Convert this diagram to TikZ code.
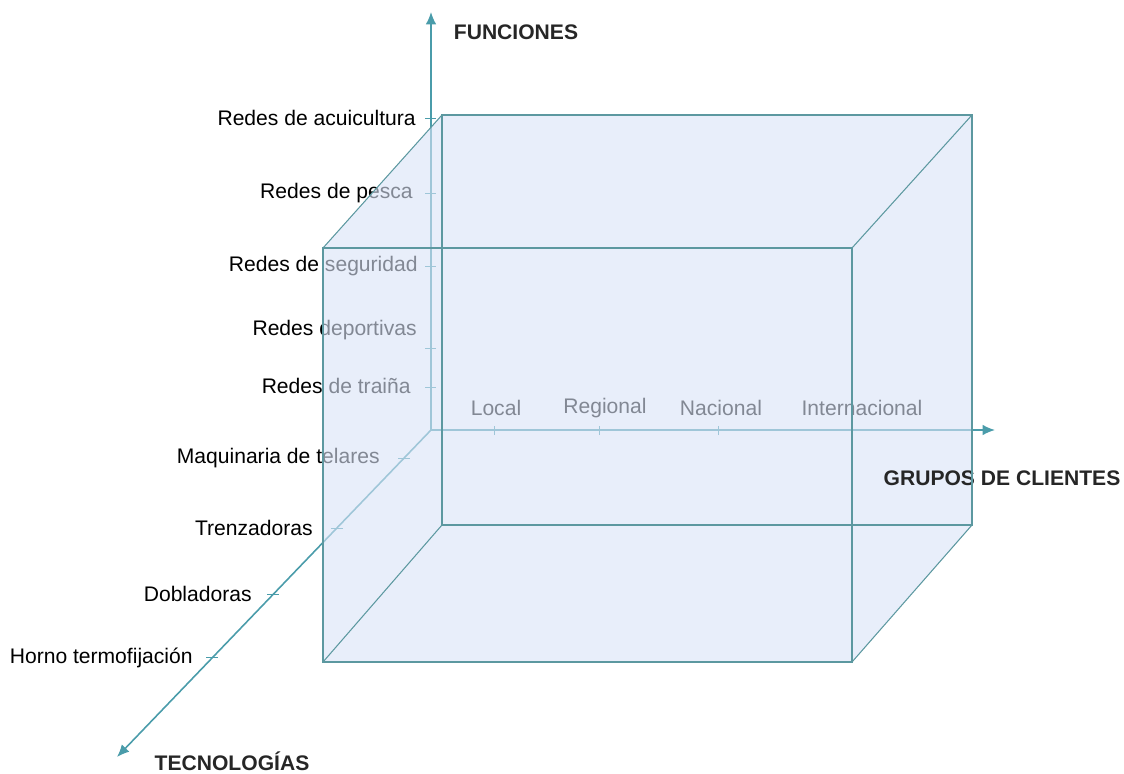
\documentclass[tikz,border=0pt]{standalone}
\usepackage{fontspec}
\setmainfont{Liberation Sans}
\usepackage{tikz}
\usetikzlibrary{arrows.meta}
\definecolor{axisteal}{RGB}{74,156,170}
\definecolor{edgeteal}{RGB}{92,152,160}
\definecolor{cubefill}{RGB}{217,227,247}

\begin{document}
\begin{tikzpicture}[
  axisline/.style={draw=axisteal, line width=0.9pt, -{Latex[length=7pt,width=6pt]}},
  tickmark/.style={draw=axisteal, line width=0.5pt},
  ticklabel/.style={font=\fontsize{12}{14}\selectfont, inner sep=0pt},
  axistitle/.style={font=\fontsize{12}{14}\selectfont\bfseries, text=black!85},
  cubeedge/.style={draw=edgeteal, line width=0.6pt}]

\useasboundingbox (0,0) rectangle (22.48,15.46);

\coordinate (O) at (8.62,6.86);
\coordinate (yend) at (8.62,15.22);
\coordinate (xend) at (19.9,6.86);
\coordinate (zend) at (2.34,0.32);

\draw[axisline] (O) -- (yend);
\draw[axisline] (O) -- (xend);
\draw[axisline] (O) -- (zend);

\node[axistitle] (funciones) at (10.32,14.82) {FUNCIONES};
\node[axistitle] (tecno) at (4.64,0.24) {TECNOLOGÍAS};

\coordinate (y1) at (8.62,13.1);
\coordinate (y2) at (8.62,11.6);
\coordinate (y3) at (8.62,10.14);
\coordinate (y4) at (8.62,8.5);
\coordinate (y5) at (8.62,7.72);
\draw[tickmark] ([xshift=-0.12cm]y1) -- ([xshift=0.1cm]y1);
\draw[tickmark] ([xshift=-0.12cm]y2) -- ([xshift=0.1cm]y2);
\draw[tickmark] ([xshift=-0.12cm]y3) -- ([xshift=0.1cm]y3);
\draw[tickmark] ([xshift=-0.12cm]y4) -- ([xshift=0.1cm]y4);
\draw[tickmark] ([xshift=-0.12cm]y5) -- ([xshift=0.1cm]y5);
\node[ticklabel, anchor=east] (acuicultura) at (8.32,13.1) {Redes de acuicultura};
\node[ticklabel, anchor=east] (pesca) at (8.26,11.6) {Redes de pesca};
\node[ticklabel, anchor=east] (seguridad) at (8.36,10.14) {Redes de seguridad};
\node[ticklabel, anchor=east] (deportivas) at (8.34,8.86) {Redes deportivas};
\node[ticklabel, anchor=east] (traina) at (8.22,7.74) {Redes de traiña};

\coordinate (x1) at (9.88,6.86);
\coordinate (x2) at (11.98,6.86);
\coordinate (x3) at (14.36,6.86);
\draw[tickmark] ([yshift=-0.1cm]x1) -- ([yshift=0.08cm]x1);
\draw[tickmark] ([yshift=-0.1cm]x2) -- ([yshift=0.08cm]x2);
\draw[tickmark] ([yshift=-0.1cm]x3) -- ([yshift=0.08cm]x3);
\node[ticklabel] (local) at (9.92,7.3) {Local};
\node[ticklabel] (regional) at (12.1,7.3) {Regional};
\node[ticklabel] (nacional) at (14.42,7.3) {Nacional};
\node[ticklabel] (internacional) at (17.24,7.3) {Internacional};

\path (O) -- (zend) coordinate[pos=0.086] (z1) coordinate[pos=0.3] (z2)
  coordinate[pos=0.502] (z3) coordinate[pos=0.697] (z4);
\draw[tickmark] ([xshift=-0.12cm]z1) -- ([xshift=0.12cm]z1);
\draw[tickmark] ([xshift=-0.12cm]z2) -- ([xshift=0.12cm]z2);
\draw[tickmark] ([xshift=-0.12cm]z3) -- ([xshift=0.12cm]z3);
\draw[tickmark] ([xshift=-0.12cm]z4) -- ([xshift=0.12cm]z4);
\node[ticklabel, anchor=east] (telares) at (7.6,6.3) {Maquinaria de telares};
\node[ticklabel, anchor=east] (trenzadoras) at (6.26,4.9) {Trenzadoras};
\node[ticklabel, anchor=east] (dobladoras) at (5.04,3.58) {Dobladoras};
\node[ticklabel, anchor=east] (horno) at (3.86,2.3) {Horno termofijación};

\coordinate (b1) at (8.84,13.16);
\coordinate (b2) at (19.44,13.16);
\coordinate (b3) at (19.44,4.96);
\coordinate (b4) at (8.84,4.96);
\coordinate (f1) at (6.46,10.5);
\coordinate (f2) at (17.04,10.5);
\coordinate (f3) at (17.04,2.22);
\coordinate (f4) at (6.46,2.22);

\fill[cubefill, fill opacity=0.6] (f4) -- (f1) -- (b1) -- (b2) -- (b3) -- (f3) -- cycle;
\node[axistitle] (grupos) at (20.04,5.9) {GRUPOS DE CLIENTES};
\draw[cubeedge] (b1) -- (b2) -- (b3) -- (b4) -- cycle;
\draw[cubeedge] (f1) -- (f2) -- (f3) -- (f4) -- cycle;
\draw[cubeedge] (b1) -- (f1);
\draw[cubeedge] (b2) -- (f2);
\draw[cubeedge] (b3) -- (f3);
\draw[cubeedge] (b4) -- (f4);
\end{tikzpicture}
\end{document}
